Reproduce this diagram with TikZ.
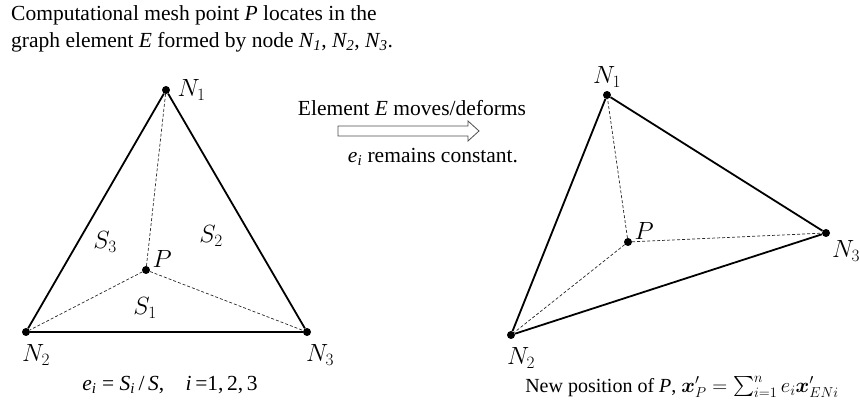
\documentclass[tikz,border=0pt]{standalone}
\usepackage{amsmath,amssymb,bm}
\usepackage{fontspec}
\setmainfont{Liberation Serif}
\usetikzlibrary{positioning}

\begin{document}
\begin{tikzpicture}[x=1pt,y=1pt,
  meshpt/.style={circle,fill=black,minimum size=8pt,inner sep=0pt},
  edge/.style={line width=1.8pt},
  link/.style={line width=0.7pt,dash pattern=on 3pt off 2pt,draw=black!85},
  tag/.style={font=\fontsize{24}{28}\selectfont},
  every node/.style={font=\fontsize{21.5}{27}\selectfont}]
  \useasboundingbox (0,0) rectangle (860,404);
  % caption on top
  \node[anchor=north west,align=left,inner sep=0pt] (head) at (11,399)
    {Computational mesh point \textit{P} locates in the\\
     graph element \textit{E} formed by node \textit{N\textsubscript{1}}, \textit{N\textsubscript{2}}, \textit{N\textsubscript{3}}.};
  % original element
  \node[meshpt] (a1) at (166,314) {};
  \node[meshpt] (a2) at (26,72) {};
  \node[meshpt] (a3) at (307,72) {};
  \node[meshpt] (aP) at (146,134) {};
  \draw[edge] (a1)--(a2);
  \draw[edge] (a2)--(a3);
  \draw[edge] (a3)--(a1);
  \draw[link] (aP)--(a1);
  \draw[link] (aP)--(a2);
  \draw[link] (aP)--(a3);
  \node[tag,right=4pt of a1] (a1l) {$N_1$};
  \node[tag,below=5pt of a2,xshift=10pt] (a2l) {$N_2$};
  \node[tag,below=5pt of a3,xshift=13pt] (a3l) {$N_3$};
  \node[tag,above right=-4pt and 0pt of aP] (aPl) {$P$};
  \node[tag] (s1) at (145,96) {$S_1$};
  \node[tag] (s2) at (211,168) {$S_2$};
  \node[tag] (s3) at (105,162) {$S_3$};
  \node (ratio) at (170,19) {\textit{e\textsubscript{i}} = \textit{S\textsubscript{i}}\,/\,\textit{S},\quad \textit{i}\,=1,\,2,\,3};
  % transition
  \node (move) at (412,296) {Element \textit{E} moves/deforms};
  \coordinate (arrS) at (338,273);
  \draw[line width=0.8pt,draw=black!70] (arrS) ++(0,-5) -- ++(130,0) -- ++(0,-5)
    -- ++(11,10) -- ++(-11,10) -- ++(0,-5) -- ++(-130,0) -- cycle;
  \node (keep) at (433,247) {\textit{e\textsubscript{i}} remains constant.};
  % deformed element
  \node[meshpt] (b1) at (607,309) {};
  \node[meshpt] (b2) at (511,69) {};
  \node[meshpt] (b3) at (826,171) {};
  \node[meshpt] (bP) at (628,162) {};
  \draw[edge] (b1)--(b2);
  \draw[edge] (b2)--(b3);
  \draw[edge] (b3)--(b1);
  \draw[link] (bP)--(b1);
  \draw[link] (bP)--(b2);
  \draw[link] (bP)--(b3);
  \node[tag,above=0pt of b1] (b1l) {$N_1$};
  \node[tag,below=5pt of b2,xshift=10pt] (b2l) {$N_2$};
  \node[tag,below=0pt of b3,xshift=20pt] (b3l) {$N_3$};
  \node[tag,above right=-4pt and 0pt of bP] (bPl) {$P$};
  \node[font=\fontsize{20}{24}\selectfont] (newpos) at (682,17)
    {New position of \textit{P}, $\bm{x}'_P=\sum_{i=1}^{n} e_i\bm{x}'_{ENi}$};
\end{tikzpicture}
\end{document}
